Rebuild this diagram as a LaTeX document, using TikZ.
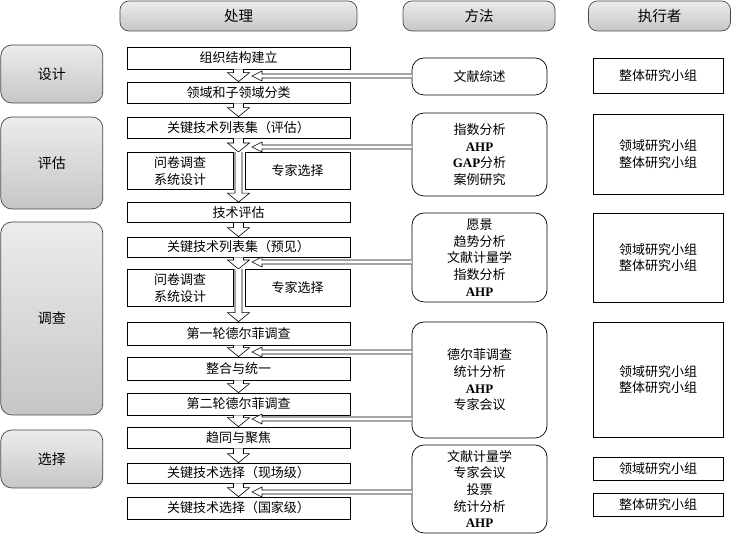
\documentclass[tikz,border=0pt]{standalone}
\usepackage{fontspec}
\setmainfont{Noto Sans CJK SC}
\newfontfamily\latn{Liberation Serif}
\usepackage{tikz}
\usetikzlibrary{calc}
\definecolor{HeadTop}{RGB}{236,236,236}
\definecolor{HeadBot}{RGB}{198,198,198}
\definecolor{EdgeGray}{RGB}{70,70,70}
\newcommand{\ahp}{{\latn\bfseries AHP}}
% hollow block arrow pointing down, #1 = half shaft width
\newcommand{\blkdown}[3][5pt]{\draw[blk] let \p1=(#2), \p2=(#3) in
  (\x1-#1,\y1) -- (\x1-#1,\y2+9pt) -- (\x1-11pt,\y2+9pt) -- (\x1,\y2)
  -- (\x1+11pt,\y2+9pt) -- (\x1+#1,\y2+9pt) -- (\x1+#1,\y1);}
% hollow arrow from a method box to the tip on the left
\newcommand{\blkleft}[2]{\draw[blk] let \p1=(#1), \p2=(#2) in
  (\x1,\y2+2pt) -- (\x2+10pt,\y2+2pt) -- (\x2+10pt,\y2+5pt) -- (\x2,\y2)
  -- (\x2+10pt,\y2-5pt) -- (\x2+10pt,\y2-2pt) -- (\x1,\y2-2pt);}

\begin{document}
\begin{tikzpicture}[x=1pt,y=1pt,line width=0.7pt,
  every node/.style={font=\fontsize{13}{16.7}\selectfont,inner sep=0pt},
  hdr/.style={draw=EdgeGray,rounded corners=9pt,top color=HeadTop,bottom color=HeadBot,
    font=\fontsize{14.5}{17}\selectfont,minimum height=30pt},
  stage/.style={draw=EdgeGray,rounded corners=11pt,top color=HeadTop,bottom color=HeadBot,
    font=\fontsize{14}{17}\selectfont,minimum width=102pt},
  proc/.style={draw,fill=white,minimum width=223pt},
  half/.style={draw,fill=white,align=center,minimum height=37pt},
  meth/.style={draw,rounded corners=12pt,align=center,minimum width=135pt},
  exec/.style={draw,align=center,minimum width=130pt},
  blk/.style={draw,fill=white,line width=0.6pt}]
\useasboundingbox (0,0) rectangle (732,534);

% column heads
\node[hdr,minimum width=237pt] (H1) at (238.5,518) {处理};
\node[hdr,minimum width=152pt] (H2) at (479,518) {方法};
\node[hdr,minimum width=142pt] (H3) at (659.5,518) {执行者};

% stages
\node[stage,minimum height=58pt] (S1) at (51.8,460) {设计};
\node[stage,minimum height=92pt] (S2) at (51.8,371) {评估};
\node[stage,minimum height=193pt] (S3) at (51.8,215.5) {调查};
\node[stage,minimum height=58pt] (S4) at (51.8,75) {选择};

% process column
\node[proc,minimum height=22pt] (P1) at (238.5,476) {组织结构建立};
\node[proc,minimum height=21pt] (P2) at (238.5,441.5) {领域和子领域分类};
\node[proc,minimum height=21pt] (P3) at (238.5,406.5) {关键技术列表集（评估）};
\node[half,minimum width=106pt] (Q1) at (180,363) {问卷调查\\系统设计};
\node[half,minimum width=105pt] (E1) at (297.5,363) {专家选择};
\node[proc,minimum height=20pt] (P4) at (238.5,321.5) {技术评估};
\node[proc,minimum height=20pt] (P5) at (238.5,287) {关键技术列表集（预见）};
\node[half,minimum width=106pt] (Q2) at (180,246) {问卷调查\\系统设计};
\node[half,minimum width=105pt] (E2) at (297.5,246) {专家选择};
\node[proc,minimum height=23pt] (P6) at (238.5,200.5) {第一轮德尔菲调查};
\node[proc,minimum height=23pt] (P7) at (238.5,165.5) {整合与统一};
\node[proc,minimum height=22pt] (P8) at (238.5,130) {第二轮德尔菲调查};
\node[proc,minimum height=21pt] (P9) at (238.5,96.5) {趋同与聚焦};
\node[proc,minimum height=20pt] (P10) at (238.5,61) {关键技术选择（现场级）};
\node[proc,minimum height=22pt] (P11) at (238.5,26) {关键技术选择（国家级）};

% methods
\node[meth,minimum height=37pt] (M1) at (479.5,457.5) {文献综述};
\node[meth,minimum height=83pt] (M2) at (479.5,379.5) {指数分析\\\ahp\\{\latn\bfseries GAP}分析\\案例研究};
\node[meth,minimum height=89pt] (M3) at (479.5,276.5) {愿景\\趋势分析\\文献计量学\\指数分析\\\ahp};
\node[meth,minimum height=116pt] (M4) at (479.5,154) {德尔菲调查\\统计分析\\\ahp\\专家会议};
\node[meth,minimum height=88pt] (M5) at (479.5,45) {文献计量学\\专家会议\\投票\\统计分析\\\ahp};

% executors
\node[exec,minimum height=35pt] (X1) at (658,458.5) {整体研究小组};
\node[exec,minimum height=80pt] (X2) at (658,380) {领域研究小组\\整体研究小组};
\node[exec,minimum height=89pt] (X3) at (658,276.5) {领域研究小组\\整体研究小组};
\node[exec,minimum height=115pt] (X4) at (658,154.5) {领域研究小组\\整体研究小组};
\node[exec,minimum height=23pt] (X5) at (658,65.5) {领域研究小组};
\node[exec,minimum height=23pt] (X6) at (658,29.5) {整体研究小组};

% flow arrows
\coordinate (g1) at (238.5,382);
\coordinate (g2) at (238.5,265);
\blkdown{P1.south}{P2.north}
\blkdown{P2.south}{P3.north}
\blkdown{P3.south}{g1}
\blkdown[3.5pt]{g1}{P4.north}
\blkdown{P4.south}{P5.north}
\blkdown{P5.south}{g2}
\blkdown[3.5pt]{g2}{P6.north}
\blkdown{P6.south}{P7.north}
\blkdown{P7.south}{P8.north}
\blkdown{P8.south}{P9.north}
\blkdown{P9.south}{P10.north}
\blkdown{P10.south}{P11.north}

% method inputs
\coordinate (t1) at (252,458);
\coordinate (t2) at (252,387);
\coordinate (t3) at (252,272);
\coordinate (t4) at (252,182);
\coordinate (t5) at (252,115);
\coordinate (t6) at (252,42);
\blkleft{M1.west}{t1}
\blkleft{M2.west}{t2}
\blkleft{M3.west}{t3}
\blkleft{M4.west}{t4}
\blkleft{M4.west}{t5}
\blkleft{M5.west}{t6}
\end{tikzpicture}
\end{document}
